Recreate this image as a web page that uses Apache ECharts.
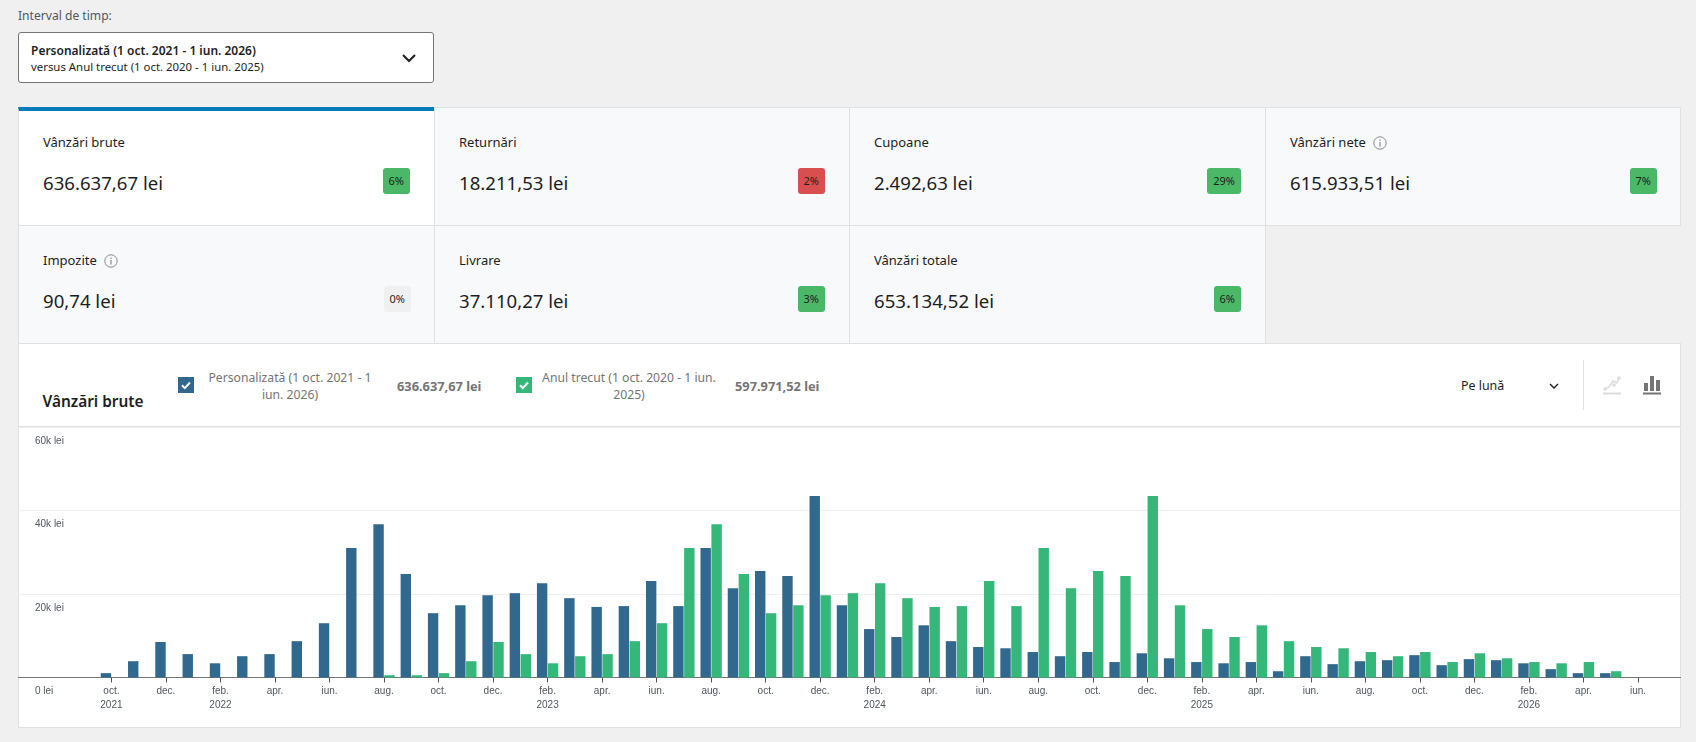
<!DOCTYPE html>
<html lang="ro">
<head>
<meta charset="utf-8">
<title>Vânzări brute</title>
<script src="https://cdn.jsdelivr.net/npm/echarts@6/dist/echarts.min.js"></script>
<style>
html,body{margin:0;padding:0;width:1696px;height:742px;overflow:hidden;background:#f0f0f0;font-family:"Noto Sans",sans-serif;color:#1e1e1e}
.a{position:absolute;white-space:nowrap}
.card{position:absolute;box-sizing:border-box;background:#f8f9fa;border:1px solid #e0e0e0;margin:0}
.card.sel{background:#fff;border-top:4px solid #007cba}
.lab{position:absolute;left:24px;top:25px;font-size:13px;line-height:18px;color:#1e1e1e;white-space:nowrap}
.val{position:absolute;left:24px;top:60px;font-size:18.6px;line-height:30px;color:#1e1e1e;white-space:nowrap}
.bad{position:absolute;top:60px;right:23px;height:26px;line-height:26px;padding:0 6px;box-sizing:border-box;text-align:center;border-radius:3px;font-size:11px;color:#1e1e1e}
.g{background:#4ab866}.r{background:#d94f4f}.n{background:#f0f0f0}
.lab svg{vertical-align:-3px;margin-left:4px}
.ck{position:absolute;width:16px;height:16px;top:377px}
.ltxt{position:absolute;top:369px;font-size:12.2px;line-height:17px;color:#757575;text-align:center}
.amt{position:absolute;top:377px;font-size:12.8px;line-height:18px;font-weight:700;color:#757575;white-space:nowrap}
</style>
</head>
<body>
<div class="a" style="left:18px;top:7px;font-size:12.1px;line-height:18px;color:#50575e">Interval de timp:</div>
<div style="position:absolute;left:18px;top:32px;width:416px;height:51px;box-sizing:border-box;background:#fff;border:1px solid #757575;border-radius:3px"></div>
<div class="a" style="left:31px;top:41.500px;font-size:12px;line-height:17px;font-weight:600">Personalizată (1 oct. 2021 - 1 iun. 2026)</div>
<div class="a" style="left:31px;top:57.500px;font-size:11.4px;line-height:17px">versus Anul trecut (1 oct. 2020 - 1 iun. 2025)</div>
<svg class="a" style="left:401px;top:52px" width="16" height="13" viewBox="0 0 16 13"><path d="M2 3l6 6 6-6" fill="none" stroke="#1e1e1e" stroke-width="2"/></svg>

<div id="cards"></div>

<div style="position:absolute;left:18px;top:343px;width:1663px;height:385px;box-sizing:border-box;background:#fff;border:1px solid #e0e0e0"></div>
<div style="position:absolute;left:18px;top:426px;width:1663px;height:1px;background:#e0e0e0"></div>

<div class="a" style="left:42.500px;top:389px;font-size:15.4px;line-height:26px;font-weight:600;color:#1e1e1e">Vânzări brute</div>

<svg class="ck" style="left:178px" viewBox="0 0 16 16"><rect width="16" height="16" fill="#31688e"/><path d="M4 8.3l2.8 2.8L12 5.5" fill="none" stroke="#fff" stroke-width="2"/></svg>
<div class="ltxt" style="left:202px;width:176px">Personalizată (1 oct. 2021 - 1<br>iun. 2026)</div>
<div class="amt" style="left:397px">636.637,67 lei</div>
<svg class="ck" style="left:516px" viewBox="0 0 16 16"><rect width="16" height="16" fill="#35b779"/><path d="M4 8.3l2.8 2.8L12 5.5" fill="none" stroke="#fff" stroke-width="2"/></svg>
<div class="ltxt" style="left:538px;width:182px">Anul trecut (1 oct. 2020 - 1 iun.<br>2025)</div>
<div class="amt" style="left:735px">597.971,52 lei</div>

<div class="a" style="left:1461px;top:377px;font-size:12.4px;line-height:18px">Pe lună</div>
<svg class="a" style="left:1548px;top:382px" width="12" height="8" viewBox="0 0 12 8"><path d="M2 2l4 4 4-4" fill="none" stroke="#1e1e1e" stroke-width="1.4"/></svg>
<div style="position:absolute;left:1583px;top:360px;width:1px;height:50px;background:#e0e0e0"></div>
<svg class="a" style="left:1603px;top:375px" width="18" height="20" viewBox="0 0 18 20"><path d="M2 14l4-2 4-6 4 2 2-5" fill="none" stroke="#dcdcde" stroke-width="1.6"/><circle cx="2" cy="14" r="1.8" fill="#dcdcde"/><circle cx="11" cy="10" r="1.8" fill="#dcdcde"/><circle cx="16" cy="3" r="1.8" fill="#dcdcde"/><rect y="17.500" width="18" height="2" fill="#dcdcde"/></svg>
<svg class="a" style="left:1643px;top:375px" width="18" height="20" viewBox="0 0 18 20"><rect x="1" y="8" width="4" height="8" fill="#757575"/><rect x="7" y="1" width="4" height="15" fill="#757575"/><rect x="13" y="5" width="4" height="11" fill="#757575"/><rect y="17.500" width="18" height="2" fill="#757575"/></svg>

<div id="chart" style="position:absolute;left:18px;top:427px;width:1663px;height:300px"></div>

<script>
var categories = ['oct.','nov.','dec.','ian.','feb.','mar.','apr.','mai','iun.','iul.','aug.','sept.',
  'oct.','nov.','dec.','ian.','feb.','mar.','apr.','mai','iun.','iul.','aug.','sept.',
  'oct.','nov.','dec.','ian.','feb.','mar.','apr.','mai','iun.','iul.','aug.','sept.',
  'oct.','nov.','dec.','ian.','feb.','mar.','apr.','mai','iun.','iul.','aug.','sept.',
  'oct.','nov.','dec.','ian.','feb.','mar.','apr.','mai','iun.'];
var yearLabels = {0:'2021',4:'2022',16:'2023',28:'2024',40:'2025',52:'2026'};
var currentValues = [1040,3900,8500,5600,3400,5100,5600,8700,13000,31000,36700,24800,
  15400,17300,19700,20200,22600,19000,16900,17100,23100,17100,31000,21400,
  25500,24300,43500,17300,11600,9700,12500,8700,7300,7000,6100,5100,
  6100,3700,5800,4600,3700,3400,3700,1500,5100,3200,3900,4150,
  5350,2950,4400,4150,3400,2000,1040,1040,0];
var previousValues = [0,0,0,0,0,0,0,0,0,0,550,550,
  1040,3900,8500,5600,3400,5100,5600,8700,13000,31000,36700,24800,
  15400,17300,19700,20200,22600,19000,16900,17100,23100,17100,31000,21400,
  25500,24300,43500,17300,11600,9700,12500,8700,7300,7000,6100,5100,
  6100,3700,5800,4600,3700,3400,3700,1500,0];
var yTicks = [0,20000,40000,60000];
var seriesNames = ['Personalizată (1 oct. 2021 - 1 iun. 2026)','Anul trecut (1 oct. 2020 - 1 iun. 2025)'];
var seriesColors = ['#31688e','#35b779'];
var cards = [
  ['Vânzări brute','636.637,67 lei','6%','g',0],
  ['Returnări','18.211,53 lei','2%','r',0],
  ['Cupoane','2.492,63 lei','29%','g',0],
  ['Vânzări nete','615.933,51 lei','7%','g',1],
  ['Impozite','90,74 lei','0%','n',1],
  ['Livrare','37.110,27 lei','3%','g',0],
  ['Vânzări totale','653.134,52 lei','6%','g',0]
];
var info = '<svg width="14" height="14" viewBox="0 0 14 14"><circle cx="7" cy="7" r="6.2" fill="none" stroke="#8a8a8a"/><rect x="6.400" y="6" width="1.200" height="4.500" fill="#8a8a8a"/><rect x="6.400" y="3.500" width="1.200" height="1.400" fill="#8a8a8a"/></svg>';
var html = '';
var colX = [18,434,849,1265], colW = [417,416,417,416];
cards.forEach(function(c,i){
  var col = i%4, row = i<4?0:1;
  var sel = i===0;
  html += '<div class="card'+(sel?' sel':'')+'" style="left:'+colX[col]+'px;top:'+(row?225:107)+'px;width:'+colW[col]+'px;height:119px;'+(sel?'background:#fff;':'')+'">'
    + '<div class="lab"'+(sel?' style="top:22px"':'')+'>'+c[0]+(c[4]?' '+info:'')+'</div>'
    + '<div class="val"'+(sel?' style="top:57px"':'')+'>'+c[1]+'</div>'
    + '<div class="bad '+c[3]+'"'+(sel?' style="top:57px;right:24px"':(col===2||col===1?' style="right:24px"':''))+'>'+c[2]+'</div></div>';
});
document.getElementById('cards').innerHTML = html;

var chart = echarts.init(document.getElementById('chart'), null, {renderer:'canvas'});
chart.setOption({
  animation:false,
  grid:[
    {left:0,width:1663,top:0,height:250.5},
    {left:79.8,width:1553.8,top:0,height:250.5}
  ],
  xAxis:[
    {type:'category',gridIndex:0,data:[''],axisLine:{lineStyle:{color:'#757575',width:1}},axisTick:{show:false},axisLabel:{show:false},splitLine:{show:false}},
    {type:'category',gridIndex:1,data:categories,
      axisLine:{show:false},
      axisTick:{show:true,interval:1,alignWithLabel:true,length:5,lineStyle:{color:'#555',width:1}},
      axisLabel:{interval:1,margin:7,fontFamily:'"Liberation Sans",Arial,sans-serif',fontSize:10,lineHeight:14,color:'#50575e',
        formatter:function(v,i){return yearLabels[i]?v+'\n'+yearLabels[i]:v;}}}
  ],
  yAxis:[
    {type:'value',gridIndex:0,min:yTicks[0],max:yTicks[3],interval:yTicks[1],
      axisLine:{show:false},axisTick:{show:false},
      splitLine:{lineStyle:{color:'#efefef',width:1}},
      axisLabel:{inside:true,margin:17,verticalAlign:'top',padding:[9,0,0,0],fontFamily:'"Liberation Sans",Arial,sans-serif',fontSize:10,color:'#50575e',
        formatter:function(v){return (v===0?'0':(v/1000)+'k')+' lei';}}},
    {type:'value',gridIndex:1,min:yTicks[0],max:yTicks[3],show:false,splitLine:{show:false}}
  ],
  series:[
    {name:seriesNames[0],type:'bar',xAxisIndex:1,yAxisIndex:1,data:currentValues,barWidth:10.4,barGap:'5%',itemStyle:{color:seriesColors[0]}},
    {name:seriesNames[1],type:'bar',xAxisIndex:1,yAxisIndex:1,data:previousValues,barWidth:10.4,barGap:'5%',itemStyle:{color:seriesColors[1]}}
  ]
});
</script>
</body>
</html>
